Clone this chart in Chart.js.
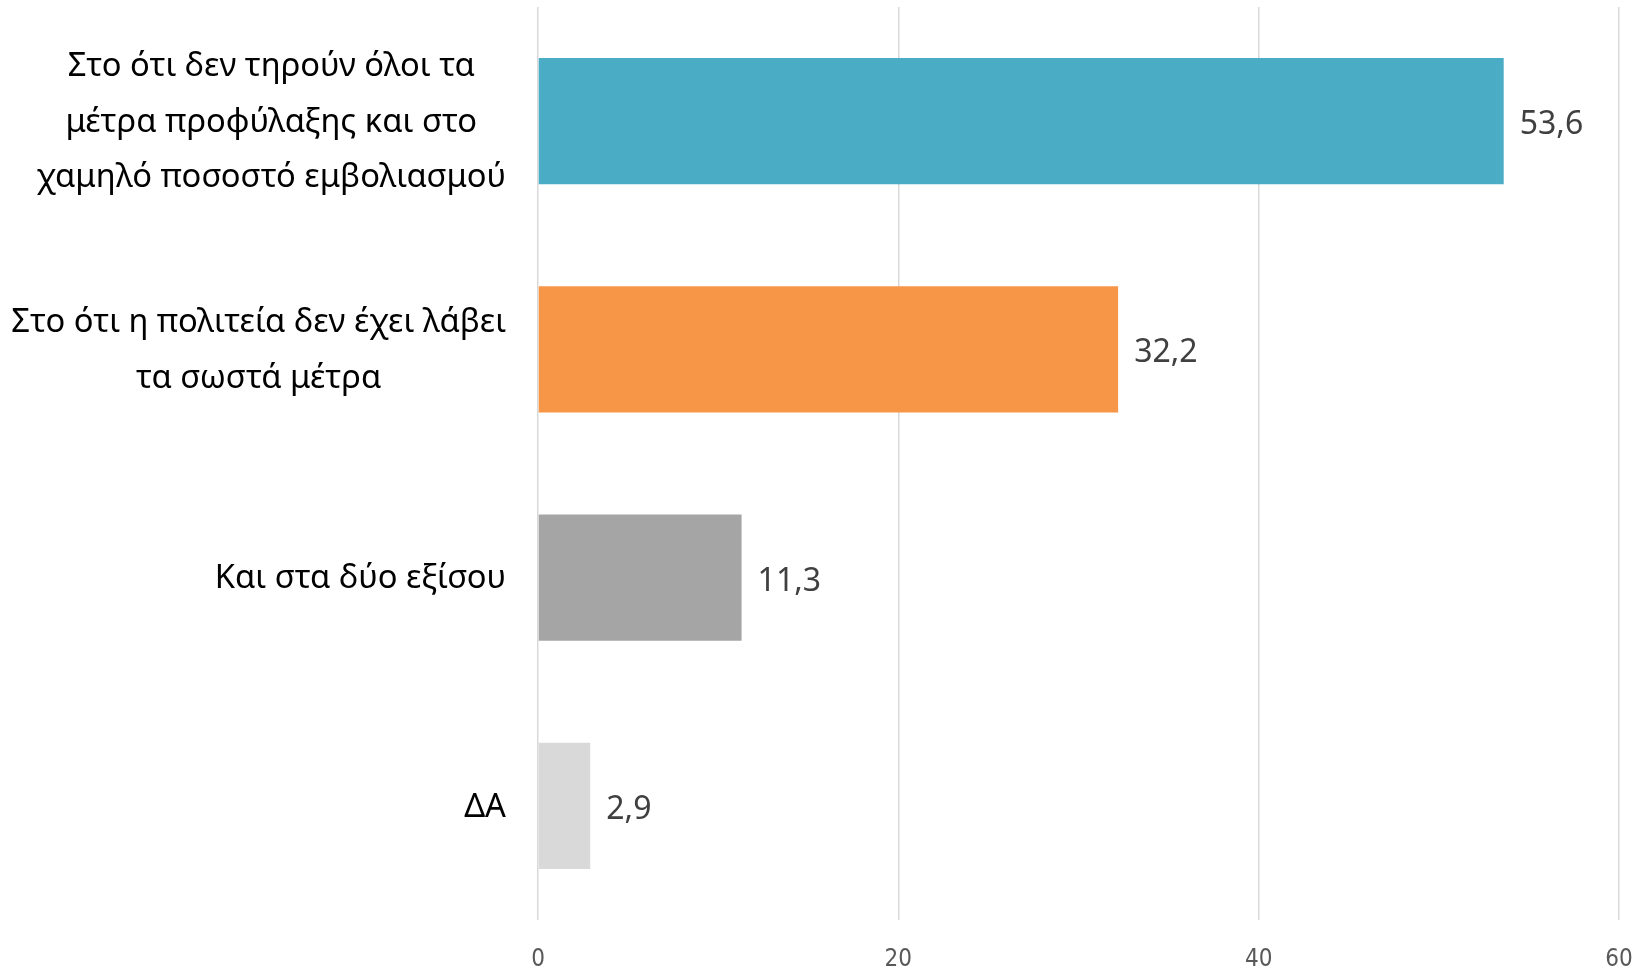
<!DOCTYPE html>
<html>
<head>
<meta charset="utf-8">
<script src="https://cdn.jsdelivr.net/npm/chart.js@4/dist/chart.umd.min.js"></script>
<style>
  html,body{margin:0;padding:0;background:#fff;}
  #wrap{width:1642px;height:970px;}
</style>
</head>
<body>
<div id="wrap"><canvas id="chart" width="1642" height="970"></canvas></div>
<script>
// data
const categories = [
  ['Στο ότι δεν τηρούν όλοι τα', 'μέτρα προφύλαξης και στο', 'χαμηλό ποσοστό εμβολιασμού'],
  ['Στο ότι η πολιτεία δεν έχει λάβει', 'τα σωστά μέτρα'],
  ['Και στα δύο εξίσου'],
  ['ΔΑ']
];
const values = [53.6, 32.2, 11.3, 2.9];
const barColors = ['#4BACC6', '#F79646', '#A5A5A5', '#D9D9D9'];
const xTicks = [0, 20, 40, 60];

const LABEL_FONT = '32.7px "Noto Sans"';
const VALUE_FONT = '32px "Noto Sans"';

function fmt(v){return v.toFixed(1).replace('.', ',');}

// category labels: block right aligned, lines centered inside block
const catLabels = {
  id:'catLabels',
  afterDraw(chart){
    const ctx=chart.ctx, y=chart.scales.y;
    ctx.save();
    ctx.font=LABEL_FONT; ctx.fillStyle='#000'; ctx.textAlign='center'; ctx.textBaseline='middle';
    const right=chart.chartArea.left-32, lh=55.5;
    categories.forEach((lines,i)=>{
      const w=Math.max(...lines.map(l=>ctx.measureText(l).width));
      const cx=right-w/2, cy=y.getPixelForTick(i)+1.5;
      lines.forEach((l,j)=>ctx.fillText(l,cx,cy+(j-(lines.length-1)/2)*lh));
    });
    ctx.restore();
  }
};

// value labels at bar ends
const valueLabels = {
  id:'valueLabels',
  afterDatasetsDraw(chart){
    const ctx=chart.ctx;
    ctx.save();
    ctx.font=VALUE_FONT; ctx.fillStyle='#404040'; ctx.textAlign='left'; ctx.textBaseline='middle';
    chart.getDatasetMeta(0).data.forEach((bar,i)=>{
      ctx.fillText(fmt(values[i]), bar.x+16, bar.y+4);
    });
    ctx.restore();
  }
};

new Chart(document.getElementById('chart').getContext('2d'), {
  type:'bar',
  data:{
    labels:categories,
    datasets:[{data:values, backgroundColor:barColors, categoryPercentage:1, barPercentage:0.553}]
  },
  options:{
    indexAxis:'y',
    responsive:false,
    animation:false,
    layout:{padding:{top:7, right:23, left:0, bottom:0}},
    plugins:{legend:{display:false}, tooltip:{enabled:false}},
    scales:{
      x:{
        min:0, max:60,
        afterBuildTicks(s){s.ticks=xTicks.map(v=>({value:v}));},
        grid:{color:'#D9D9D9', lineWidth:1.5, drawTicks:false},
        border:{display:false},
        ticks:{padding:25, color:'#595959', font:{family:'DejaVu Sans Condensed', size:24}},
        afterFit(s){s.height=50; s.paddingLeft=0; s.paddingRight=0;}
      },
      y:{
        grid:{display:false},
        border:{display:false},
        ticks:{display:false},
        afterFit(s){s.width=538;}
      }
    }
  },
  plugins:[catLabels, valueLabels]
});
</script>
</body>
</html>
